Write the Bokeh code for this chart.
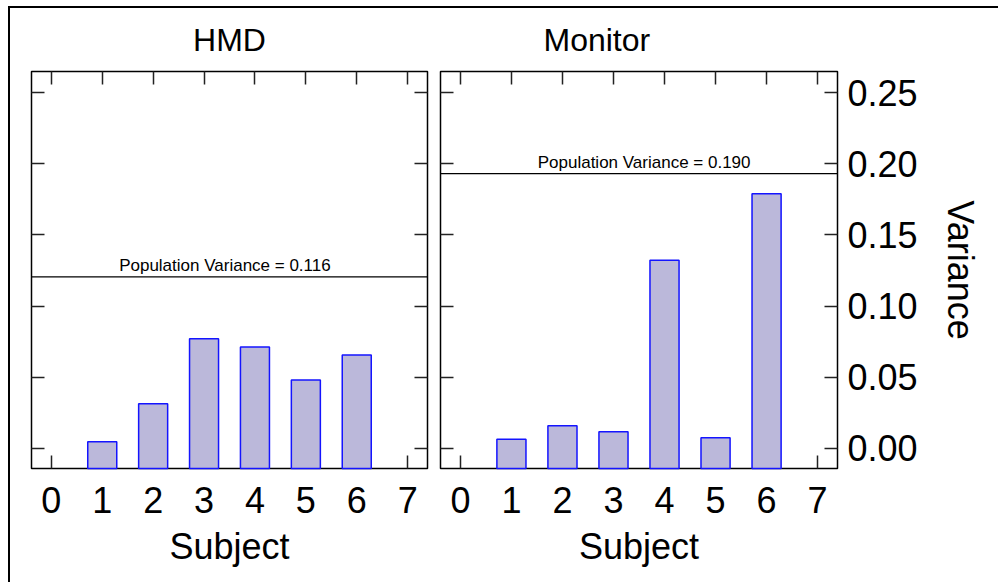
from bokeh.plotting import figure
from bokeh.models import (Range1d, FixedTicker, LinearAxis, Span, Label,
                          NumeralTickFormatter, CustomJSTickFormatter)
from bokeh.layouts import row
from bokeh.embed import file_html
from bokeh.resources import INLINE

# ---- data ----
subjects = [1, 2, 3, 4, 5, 6]
hmd_variance = [0.0047, 0.0314, 0.0770, 0.0713, 0.0480, 0.0657]
monitor_variance = [0.0065, 0.0159, 0.0117, 0.1322, 0.0075, 0.1790]
hmd_pop_line = 0.1205
monitor_pop_line = 0.193
hmd_pop_label = "Population Variance = 0.116"
monitor_pop_label = "Population Variance = 0.190"
panel_titles = ["HMD", "Monitor"]
x_ticks = [0, 1, 2, 3, 4, 5, 6, 7]
y_ticks = [0.0, 0.05, 0.10, 0.15, 0.20, 0.25]
x_label = "Subject"
y_label = "Variance"

# ---- style ----
FONT = "Liberation Sans"
Y_MIN, Y_MAX = -0.0141, 0.2648
X_MIN, X_MAX = -0.39, 7.39
H = 574
FILL = "#bbb8da"
EDGE = "#1414ff"


def style_axis(ax, labels=True):
    ax.axis_line_color = None
    ax.major_tick_in = 13
    ax.major_tick_out = 0
    ax.minor_tick_line_color = None
    ax.major_tick_line_color = "#222222"
    ax.major_tick_line_width = 1.5
    ax.major_label_text_font = FONT
    ax.major_label_text_color = "black"
    ax.axis_label_text_font = FONT
    ax.axis_label_text_font_style = "normal"
    ax.axis_label_text_color = "black"
    if not labels:
        ax.formatter = CustomJSTickFormatter(code="return ''")
        ax.major_label_text_font_size = "0px"
        ax.major_label_standoff = 0


def make_panel(title, values, pop_line, pop_label, width, mb_left, mb_right,
               show_y, label_x, title_align, title_offset):
    p = figure(width=width, height=H, x_range=Range1d(X_MIN, X_MAX),
               y_range=Range1d(Y_MIN, Y_MAX), output_backend="svg",
               toolbar_location=None, x_axis_location=None, y_axis_location=None,
               min_border_left=mb_left, min_border_right=mb_right,
               min_border_top=63, min_border_bottom=114,
               outline_line_color="black", outline_line_width=1.5,
               background_fill_color="white", border_fill_color="white")
    p.grid.visible = False

    bottom = LinearAxis(ticker=FixedTicker(ticks=x_ticks), axis_label=x_label)
    style_axis(bottom)
    bottom.major_label_text_font_size = "36px"
    bottom.axis_label_text_font_size = "36px"
    bottom.major_label_standoff = 18
    bottom.axis_label_standoff = 10
    p.add_layout(bottom, "below")

    top = LinearAxis(ticker=FixedTicker(ticks=x_ticks))
    style_axis(top, labels=False)
    p.add_layout(top, "above")

    left = LinearAxis(ticker=FixedTicker(ticks=y_ticks))
    style_axis(left, labels=False)
    p.add_layout(left, "left")

    if show_y:
        right = LinearAxis(ticker=FixedTicker(ticks=y_ticks), axis_label=y_label,
                           formatter=NumeralTickFormatter(format="0.00"))
        style_axis(right)
        right.major_label_text_font_size = "36px"
        right.axis_label_text_font_size = "36px"
        right.major_label_standoff = 10
        right.axis_label_standoff = 19
    else:
        right = LinearAxis(ticker=FixedTicker(ticks=y_ticks))
        style_axis(right, labels=False)
    p.add_layout(right, "right")

    bars = p.vbar(x=subjects, width=0.57, top=values, bottom=Y_MIN,
                  fill_color=FILL, line_color=EDGE, line_width=1.5)
    bars.level = "annotation"

    p.add_layout(Span(location=pop_line, dimension="width",
                      line_color="black", line_width=1.3))
    p.add_layout(Label(x=label_x, y=pop_line, y_offset=11, text=pop_label,
                       text_align="center", text_baseline="alphabetic",
                       text_font=FONT, text_font_size="17px", text_color="black"))

    p.title.text = title
    p.title.align = title_align
    p.title.offset = title_offset
    p.title.vertical_align = "top"
    p.title.text_font = FONT
    p.title.text_font_size = "32px"
    p.title.text_font_style = "normal"
    p.title.text_color = "black"
    p.title.standoff = 24
    return p


p1 = make_panel(panel_titles[0], hmd_variance, hmd_pop_line, hmd_pop_label,
                420, 21, 3, False, 3.41, "center", 0)
p2 = make_panel(panel_titles[1], monitor_variance, monitor_pop_line, monitor_pop_label,
                568, 10, 161, True, 3.6, "left", 103)

layout = row(p1, p2, styles={"border-top": "2px solid black",
                             "border-left": "2px solid black",
                             "margin-left": "8px", "margin-top": "6px"})

open("out.html", "w").write(file_html(layout, INLINE))
